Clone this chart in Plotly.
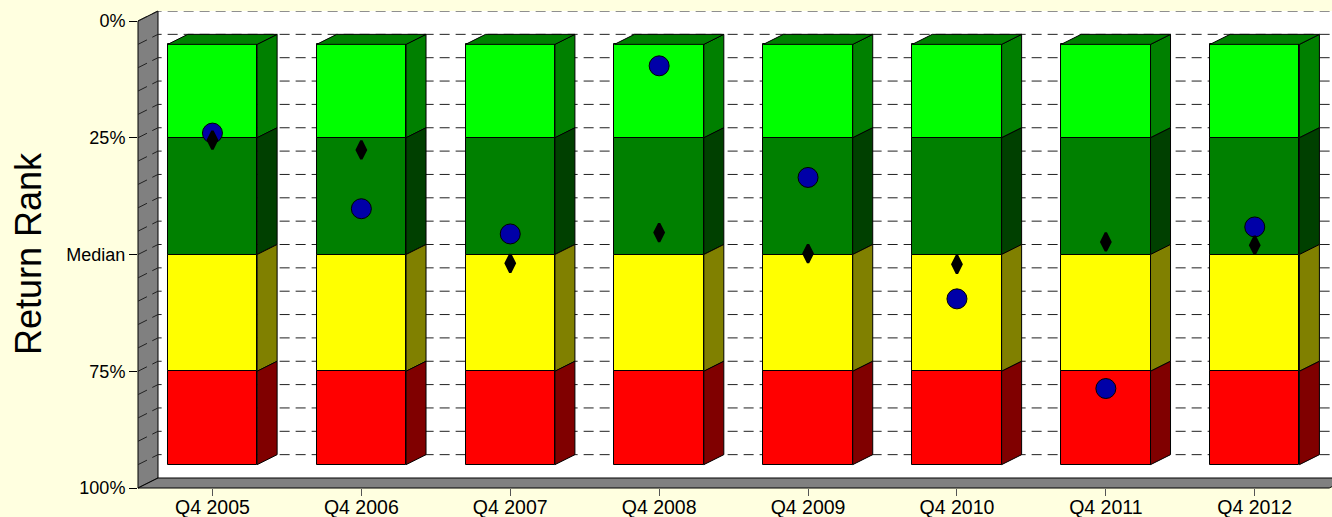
import plotly.graph_objects as go

# ---- data -------------------------------------------------------------
quarters = ["Q4 2005", "Q4 2006", "Q4 2007", "Q4 2008",
            "Q4 2009", "Q4 2010", "Q4 2011", "Q4 2012"]
fund_rank = [24.0, 40.2, 45.6, 9.6, 33.5, 59.5, 78.7, 44.1]
bench_rank = [25.5, 27.6, 51.9, 45.3, 49.8, 52.1, 47.3, 48.0]

band_edges = [5, 25, 50, 75, 95]          # percentile limits of the quartile bands
band_front = ["#00FF00", "#008000", "#FFFF00", "#FF0000"]
band_side = ["#008000", "#004000", "#808000", "#800000"]
band_top = "#008000"

rank_ticks = [0, 25, 50, 75, 100]
rank_labels = ["0%", "25%", "Median", "75%", "100%"]

# ---- layout geometry --------------------------------------------------
W, H = 1332, 517
M_L, M_R, M_T, M_B = 138, 0, 11, 29
PLOT_W = W - M_L - M_R
PLOT_H = H - M_T - M_B
CAT_PX = 148.9          # pixels per category
DEPTH_X_PX, DEPTH_Y_PX = 20, 10   # 3-D depth offset
BAR_W = 0.6

X0 = -0.5
X1 = X0 + PLOT_W / CAT_PX
PX_PER_PCT = (PLOT_H - DEPTH_Y_PX) / 100.0
DX = DEPTH_X_PX / CAT_PX
DY = DEPTH_Y_PX / PX_PER_PCT
Y_TOP = -DY            # reversed axis: 100 at the bottom
Y_BOT = 100

def px(x):
    return (x - X0) / (X1 - X0)

def py(y):
    return (Y_BOT - y) / (Y_BOT - Y_TOP)

fig = go.Figure()

# ---- front faces of the stacked quartile bars -------------------------
n = len(quarters)
xs = list(range(n))
for k in range(4):
    lo, hi = band_edges[k], band_edges[k + 1]
    fig.add_trace(go.Bar(
        x=xs, y=[hi - lo] * n, base=[lo] * n, width=BAR_W,
        marker=dict(color=band_front[k], line=dict(color="black", width=1)),
        showlegend=False, hoverinfo="skip"))

# ---- side faces --------------------------------------------------------
for k in range(4):
    lo, hi = band_edges[k], band_edges[k + 1]
    sx, sy = [], []
    for i in xs:
        r = i + BAR_W / 2
        sx += [r, r + DX, r + DX, r, r, None]
        sy += [lo, lo - DY, hi - DY, hi, lo, None]
    fig.add_trace(go.Scatter(
        x=sx, y=sy, mode="lines", fill="toself", fillcolor=band_side[k],
        line=dict(color="black", width=1), showlegend=False, hoverinfo="skip"))

# ---- top faces ---------------------------------------------------------
tx, ty = [], []
top = band_edges[0]
for i in xs:
    l, r = i - BAR_W / 2, i + BAR_W / 2
    tx += [l, r, r + DX, l + DX, l, None]
    ty += [top, top, top - DY, top - DY, top, None]
fig.add_trace(go.Scatter(
    x=tx, y=ty, mode="lines", fill="toself", fillcolor=band_top,
    line=dict(color="black", width=1), showlegend=False, hoverinfo="skip"))

# ---- rank markers ------------------------------------------------------
fig.add_trace(go.Scatter(
    x=xs, y=fund_rank, mode="markers", name="Fund",
    marker=dict(symbol="circle", size=20, color="#0000A8",
                line=dict(color="black", width=1)),
    showlegend=False))
fig.add_trace(go.Scatter(
    x=xs, y=bench_rank, mode="markers", name="Benchmark",
    marker=dict(symbol="diamond-tall", size=13, color="black",
                line=dict(color="black", width=2.5)),
    showlegend=False))

# ---- walls, floor and dashed grid -------------------------------------
shapes = []
# back wall
shapes.append(dict(type="rect", xref="paper", yref="paper", layer="below",
                   x0=px(X0 + DX), x1=1.05, y0=py(100 - DY), y1=1,
                   fillcolor="white", line=dict(width=0)))
# left wall
shapes.append(dict(type="path", xref="paper", yref="paper", layer="below",
                   path="M{},{} L{},{} L{},{} L{},{} Z".format(
                       px(X0), py(100), px(X0 + DX), py(100 - DY),
                       px(X0 + DX), py(-DY), px(X0), py(0)),
                   fillcolor="#808080", line=dict(color="black", width=1)))
# floor
shapes.append(dict(type="path", xref="paper", yref="paper", layer="below",
                   path="M{},{} L{},{} L{},{} L{},{} Z".format(
                       px(X0), py(100), px(n - 0.5), py(100),
                       px(n - 0.5 + DX), py(100 - DY), px(X0 + DX), py(100 - DY)),
                   fillcolor="#808080", line=dict(color="black", width=1)))
# dashed gridlines on the left wall and the back wall
for v in range(0, 100, 5):
    shapes.append(dict(type="path", xref="x", yref="y", layer="below",
                       path="M{},{} L{},{} L{},{}".format(
                           X0, v, X0 + DX, v - DY, X1 + 1, v - DY),
                       line=dict(color="#202020", width=1, dash="10px,6px")))

fig.update_layout(
    width=W, height=H,
    margin=dict(l=M_L, r=M_R, t=M_T, b=M_B, autoexpand=False),
    paper_bgcolor="#FFFFE0", plot_bgcolor="#FFFFE0",
    barmode="overlay", bargap=0,
    shapes=shapes,
    font=dict(family="Liberation Sans, Arial, sans-serif", color="black"),
    xaxis=dict(range=[X0, X1], tickvals=xs, ticktext=quarters,
               ticks="outside", ticklen=7, tickcolor="#555555", tickwidth=1,
               ticklabelstandoff=-5,
               showgrid=False, zeroline=False, showline=False,
               tickfont=dict(size=19.5), fixedrange=True, automargin=False),
    yaxis=dict(range=[Y_BOT, Y_TOP], tickvals=rank_ticks, ticktext=rank_labels,
               ticks="outside", ticklen=8, tickcolor="black", tickwidth=1,
               showgrid=False, zeroline=False, showline=False,
               tickfont=dict(size=18), fixedrange=True, automargin=False),
    annotations=[dict(text="Return Rank", xref="paper", yref="paper",
                      x=(28 - M_L) / PLOT_W, y=(H - M_B - 254) / PLOT_H,
                      xanchor="center", yanchor="middle", textangle=-90,
                      showarrow=False, font=dict(size=36, color="black"))],
)

fig.write_html("out.html")
